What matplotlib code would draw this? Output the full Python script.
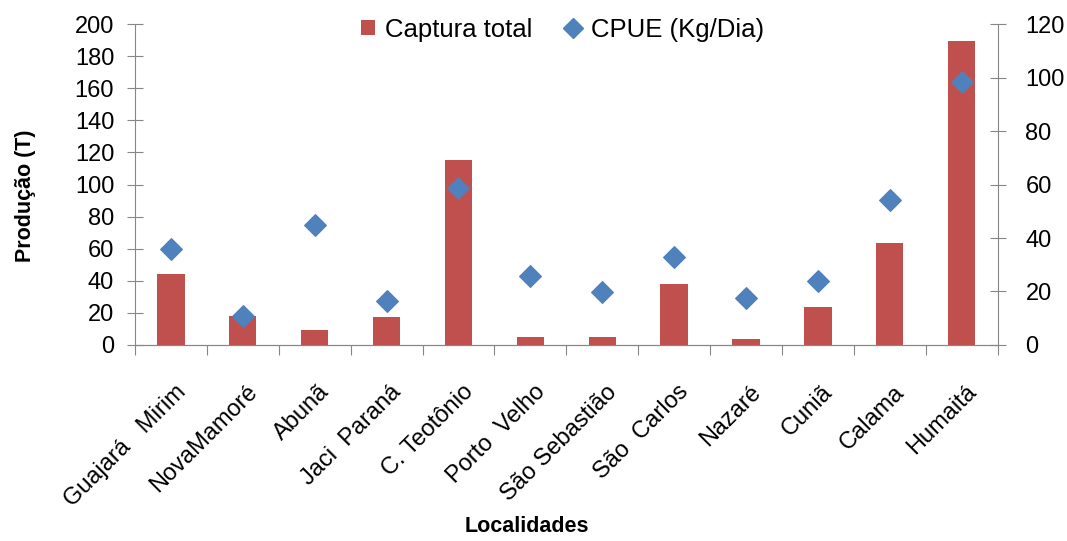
import matplotlib
matplotlib.use("Agg")
import matplotlib.pyplot as plt
from matplotlib.lines import Line2D
from matplotlib.patches import Patch

localidades = ["Guajará   Mirim", "NovaMamoré", "Abunã", "Jaci  Paraná", "C. Teotônio",
               "Porto  Velho", "São Sebastião", "São  Carlos", "Nazaré", "Cuniã",
               "Calama", "Humaitá"]
captura_total = [44.2, 18, 9.3, 17.2, 115.3, 5.2, 5, 38, 3.5, 23.9, 63.3, 189.6]
cpue = [35.8, 10.8, 44.9, 16.4, 58.6, 25.9, 19.8, 33, 17.7, 24, 54.2, 98.4]

plt.rcParams["font.family"] = ["Liberation Sans", "DejaVu Sans"]
RED = "#C0504D"
BLUE = "#4F81BD"
GRAY = "#868686"

fig = plt.figure(figsize=(10.67, 5.41), dpi=100)
ax = fig.add_axes([0.1265, 0.3623, 0.8085, 0.5933])
ax2 = ax.twinx()

x = list(range(len(localidades)))
ax.bar(x, captura_total, width=0.38, color=RED, zorder=2)
ax2.scatter(x, cpue, marker="D", s=120, color=BLUE, zorder=3)

ax.set_xlim(-0.5, len(localidades) - 0.5)
ax.set_ylim(0, 200)
ax.set_yticks(range(0, 201, 20))
ax2.set_ylim(0, 120)
ax2.set_yticks(range(0, 121, 20))

# category separators as major ticks, names on minor ticks
ax.set_xticks([i - 0.5 for i in range(len(localidades) + 1)], minor=False)
ax.set_xticklabels([])
ax.set_xticks([i + 0.05 for i in x], minor=True)
ax.set_xticklabels(localidades, minor=True, rotation=45, ha="right",
                   rotation_mode="anchor", fontsize=17)
ax.tick_params(axis="x", which="minor", length=0, pad=26)
ax.tick_params(axis="x", which="major", length=7, color=GRAY, direction="out")
ax.tick_params(axis="y", labelsize=17, length=12, direction="inout", color=GRAY, pad=9)
ax2.tick_params(axis="y", labelsize=17, length=12, direction="inout", color=GRAY, pad=14)

for a in (ax, ax2):
    a.spines["top"].set_visible(False)
    for s in ("left", "right", "bottom"):
        a.spines[s].set_color(GRAY)
ax2.spines["left"].set_visible(False)
ax.spines["right"].set_visible(False)

ax.set_ylabel("Produção (T)", fontsize=15.5, fontweight="bold")
ax.yaxis.set_label_coords(-0.115, 0.464)
fig.text(0.494, 1 - 526 / 541, "Localidades", ha="center", va="center",
         fontsize=15.5, fontweight="bold")

handles = [
    Patch(facecolor=RED, label="Captura total"),
    Line2D([], [], marker="D", color=BLUE, linestyle="none", markersize=10, label="CPUE (Kg/Dia)"),
]
fig.legend(handles=handles, loc="center", bbox_to_anchor=(0.527, 0.945), ncol=2,
           frameon=False, fontsize=18.5, handlelength=0.55, handleheight=0.55,
           handletextpad=0.4, columnspacing=1.3)

fig.savefig("out.png", dpi=100)
